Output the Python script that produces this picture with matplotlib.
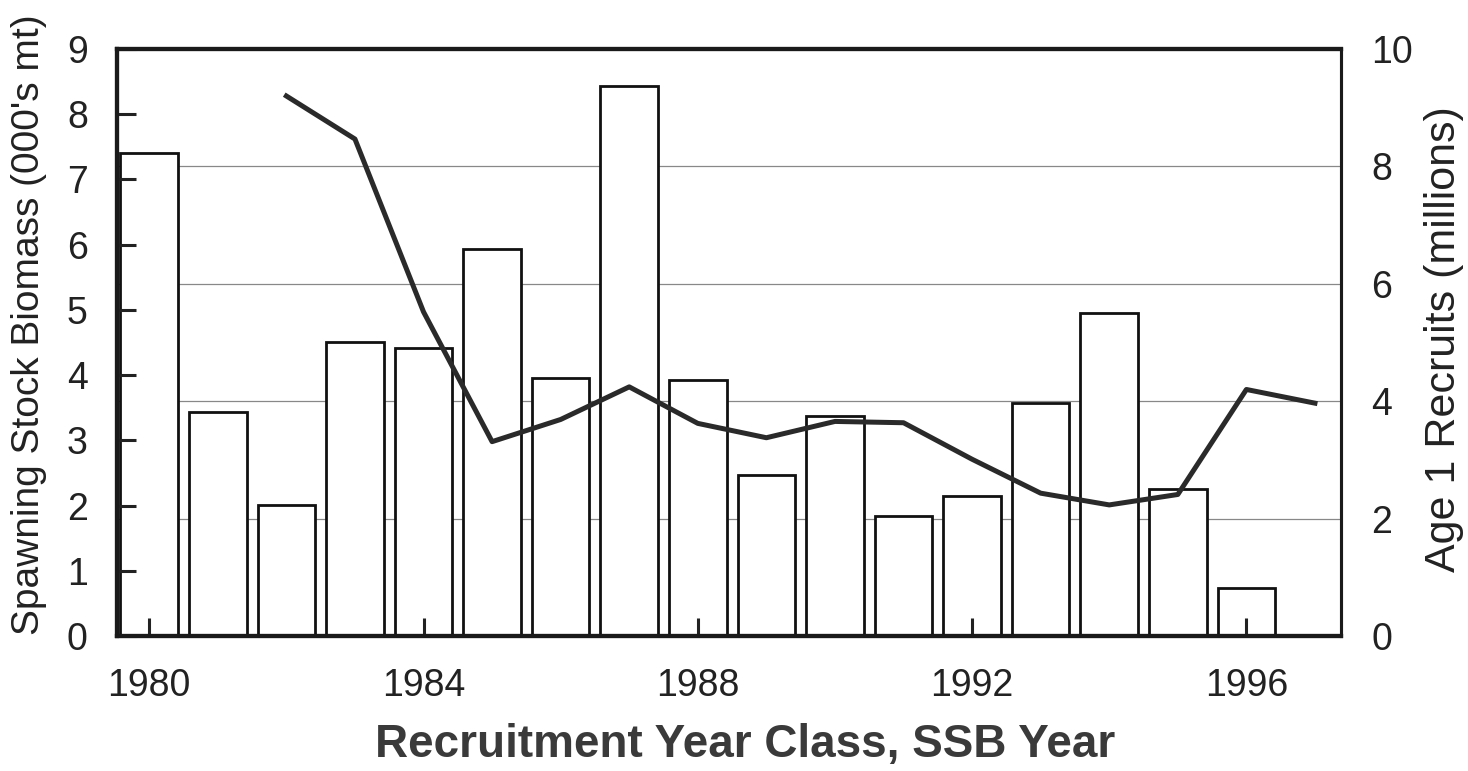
import matplotlib
matplotlib.use("Agg")
import matplotlib.pyplot as plt

plt.rcParams['font.family'] = ['Liberation Sans', 'DejaVu Sans']

# Age 1 recruits (millions) by recruitment year class -> bars, right axis
recruit_years = [1980, 1981, 1982, 1983, 1984, 1985, 1986, 1987, 1988,
                 1989, 1990, 1991, 1992, 1993, 1994, 1995, 1996]
recruits = [8.23, 3.82, 2.24, 5.01, 4.90, 6.60, 4.39, 9.37, 4.36,
            2.75, 3.75, 2.04, 2.39, 3.97, 5.51, 2.50, 0.81]

# Spawning stock biomass (000's mt) by SSB year -> line, left axis
ssb_years = [1982, 1983, 1984, 1985, 1986, 1987, 1988, 1989,
             1990, 1991, 1992, 1993, 1994, 1995, 1996, 1997]
ssb = [8.28, 7.62, 4.97, 2.98, 3.32, 3.82, 3.26, 3.04,
       3.29, 3.27, 2.71, 2.19, 2.01, 2.17, 3.78, 3.57]

x_ticks = [1980, 1984, 1988, 1992, 1996]
left_ticks = list(range(0, 10))
right_ticks = [0, 2, 4, 6, 8, 10]

fig = plt.figure(figsize=(14.68, 7.71), dpi=100)
ax = fig.add_axes([0.0797, 0.1751, 0.8338, 0.7613])
ax2 = ax.twinx()

# right axis (bars + grid) below, left axis (line) on top
ax2.set_zorder(1)
ax.set_zorder(2)
ax.patch.set_visible(False)
ax2.patch.set_facecolor('white')

ax2.bar(recruit_years, recruits, width=0.84, facecolor='white',
        edgecolor='#111111', linewidth=2.0, zorder=2)
ax2.set_ylim(0, 10)
ax2.set_yticks(right_ticks)
ax2.yaxis.grid(True, color='#888888', linewidth=0.9)
ax2.set_axisbelow(True)
ax2.tick_params(axis='y', length=0, pad=22, labelsize=27, labelcolor='#222222')
ax2.set_ylabel('Age 1 Recruits (millions)', fontsize=31, color='#222222')
ax2.yaxis.set_label_coords(1.068, 0.505)

ax.plot(ssb_years, ssb, color='#2a2a2a', linewidth=3.6, solid_joinstyle='round',
        zorder=5)
ax.set_ylim(0, 9)
ax.set_yticks(left_ticks)
ax.set_xlim(1979.53, 1997.38)
ax.set_xticks(x_ticks)
ax.tick_params(axis='y', direction='in', length=14, width=2.2, pad=21,
               labelsize=27, labelcolor='#222222', color='#222222')
ax.tick_params(axis='x', direction='in', length=13, width=2.2, pad=23,
               labelsize=27, labelcolor='#222222', color='#222222')
ax.set_ylabel("Spawning Stock Biomass (000's mt)", fontsize=28, color='#222222')
ax.yaxis.set_label_coords(-0.057, 0.53)
ax.set_xlabel('Recruitment Year Class, SSB Year', fontsize=33,
              fontweight='bold', color='#3a3a3a', va='center')
ax.xaxis.set_label_coords(0.513, -0.186)

for a in (ax, ax2):
    for side in ('left', 'top', 'bottom'):
        a.spines[side].set_linewidth(3.0)
        a.spines[side].set_color('#1a1a1a')
    a.spines['right'].set_linewidth(2.2)
    a.spines['right'].set_color('#1a1a1a')

fig.savefig('out.png', dpi=100)
